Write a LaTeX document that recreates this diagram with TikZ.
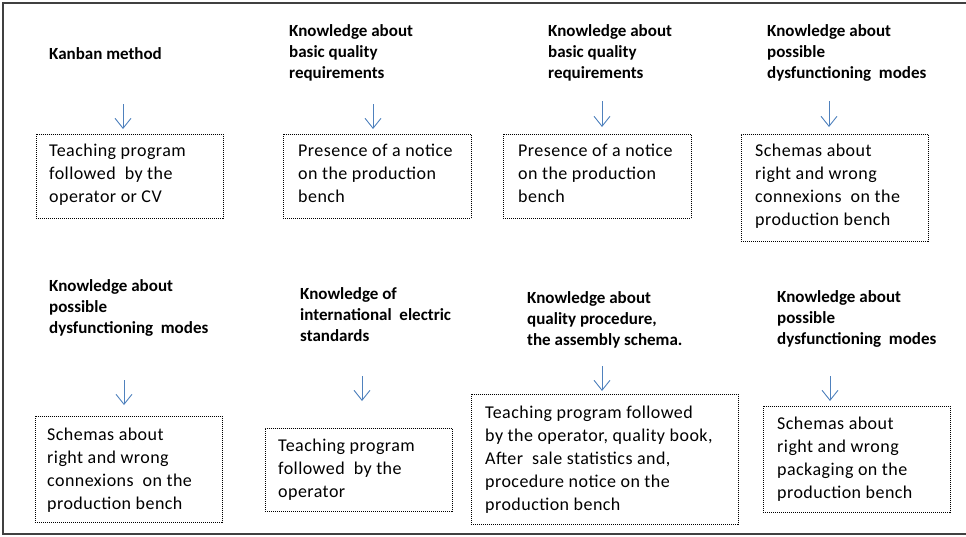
\documentclass[tikz,border=0pt]{standalone}
\usepackage{fontspec}
\setmainfont{Carlito}
\newfontfamily\boxfont[LetterSpace=2.5]{Carlito}
\usetikzlibrary{arrows.meta}
\definecolor{arrblue}{HTML}{4F81BD}
\definecolor{framegray}{HTML}{404040}
\tikzset{
  lbl/.style={anchor=north west, inner sep=0pt, align=left,
    font=\fontsize{17}{21}\selectfont\bfseries},
  txt/.style={anchor=north west, inner sep=0pt, align=left,
    font=\boxfont\fontsize{18}{23}\selectfont},
  dbox/.style={draw=black, line width=0.9pt, dash pattern=on 1pt off 1pt,
    anchor=north west, inner sep=0pt, rectangle},
  arr/.style={draw=arrblue, line width=0.9pt,
    -{Straight Barb[length=10pt,width=16pt,line width=0.9pt]}},
}
\begin{document}
\begin{tikzpicture}[x=1pt,y=-1pt]
\useasboundingbox (0,0) rectangle (966,536);
\draw[framegray, line width=1.6pt] (968,3) -- (3,3) -- (3,534) -- (968,534);

% Row 1 labels
\node[lbl] (l11) at (49,47) {Kanban method};
\node[lbl] (l12) at (289,24.5) {Knowledge about\\basic quality\\requirements};
\node[lbl] (l13) at (548,24.5) {Knowledge about\\basic quality\\requirements};
\node[lbl] (l14) at (767,24.5) {Knowledge about\\possible\\dysfunctioning~ modes};

% Row 1 boxes
\node[dbox, minimum width=187pt, minimum height=84pt] (b11) at (36,134) {};
\node[dbox, minimum width=188pt, minimum height=84pt] (b12) at (283,134) {};
\node[dbox, minimum width=188pt, minimum height=84pt] (b13) at (503,134) {};
\node[dbox, minimum width=187pt, minimum height=107pt] (b14) at (741,134) {};

\node[txt] (t11) at (49,144) {Teaching program\\followed~ by the\\operator or CV};
\node[txt] (t12) at (298,144) {Presence of a notice\\on the production\\bench};
\node[txt] (t13) at (518,144) {Presence of a notice\\on the production\\bench};
\node[txt] (t14) at (755,144) {Schemas about\\right and wrong\\connexions~ on the\\production bench};

% Row 2 labels
\node[lbl] (l21) at (49,279) {Knowledge about\\possible\\dysfunctioning~ modes};
\node[lbl] (l22) at (300,287) {Knowledge of\\international~ electric\\standards};
\node[lbl] (l23) at (527,291) {Knowledge about\\quality procedure,\\the assembly schema.};
\node[lbl] (l24) at (777,290) {Knowledge about\\possible\\dysfunctioning~ modes};

% Row 2 boxes
\node[dbox, minimum width=187pt, minimum height=106pt] (b21) at (35,416) {};
\node[dbox, minimum width=187pt, minimum height=83pt] (b22) at (265,428) {};
\node[dbox, minimum width=267pt, minimum height=130pt] (b23) at (471,394) {};
\node[dbox, minimum width=187pt, minimum height=106pt] (b24) at (763,406) {};

\node[txt] (t21) at (47,428) {Schemas about\\right and wrong\\connexions~ on the\\production bench};
\node[txt] (t22) at (278,438.5) {Teaching program\\followed~ by the\\operator};
\node[txt] (t23) at (485,406) {Teaching program followed\\by the operator, quality book,\\After~ sale statistics and,\\procedure notice on the\\production bench};
\node[txt] (t24) at (777,417) {Schemas about\\right and wrong\\packaging on the\\production bench};

% Arrow coordinates
\coordinate (s11) at (123,104); \coordinate (e11) at (123,129);
\coordinate (s12) at (373,104); \coordinate (e12) at (373,129);
\coordinate (s13) at (602,101); \coordinate (e13) at (602,127);
\coordinate (s14) at (829,101); \coordinate (e14) at (829,127);
\coordinate (s21) at (124,380); \coordinate (e21) at (124,405);
\coordinate (s22) at (362,376); \coordinate (e22) at (362,401);
\coordinate (s23) at (602,366); \coordinate (e23) at (602,391);
\coordinate (s24) at (830,376); \coordinate (e24) at (830,401);

\foreach \i in {11,12,13,14,21,22,23,24}
  \draw[arr] (s\i) -- (e\i);
\end{tikzpicture}
\end{document}
